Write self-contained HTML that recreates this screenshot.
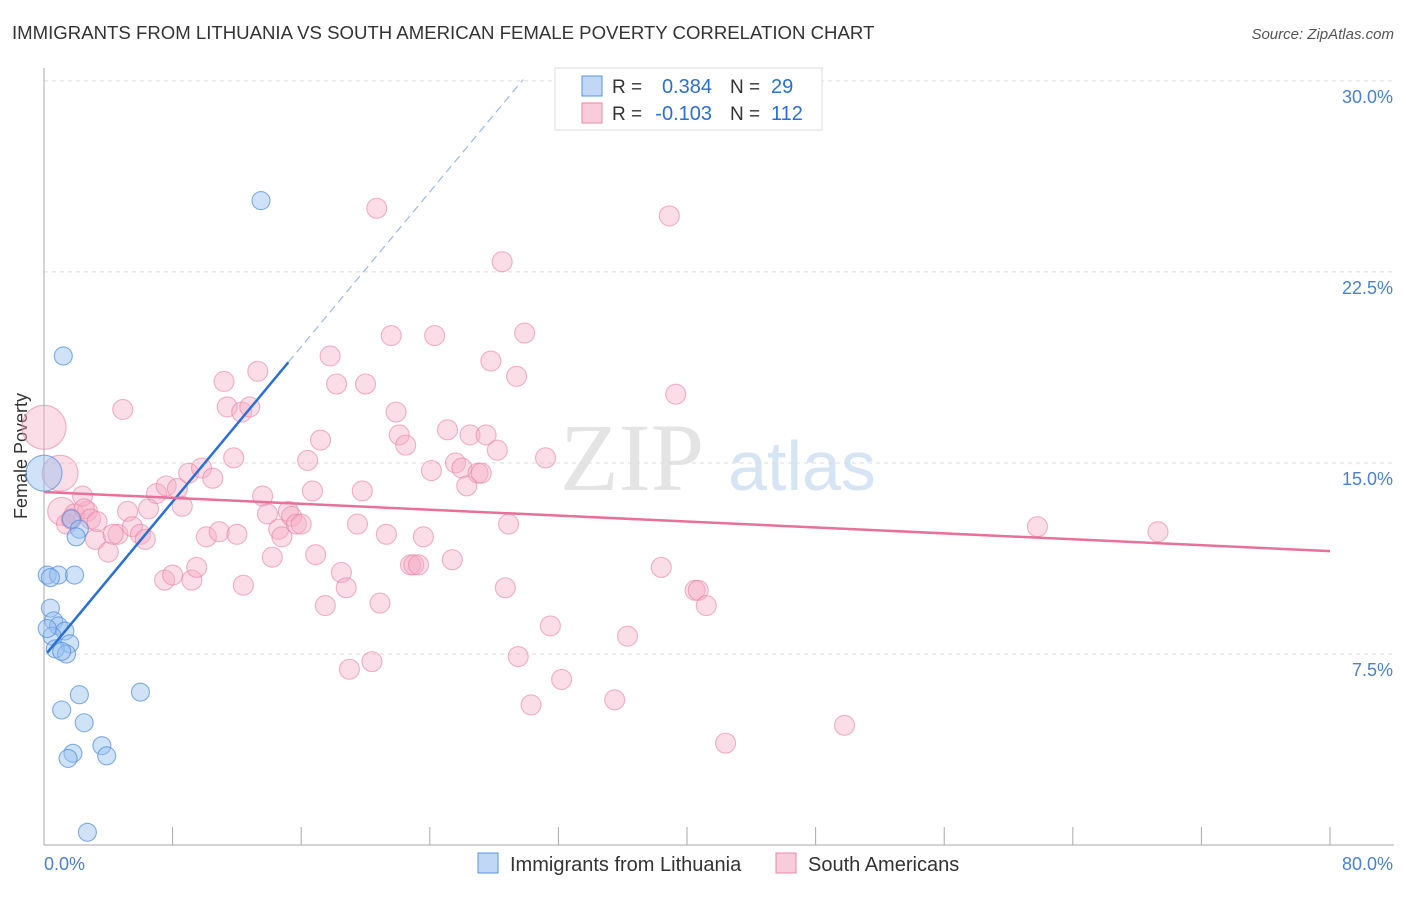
<!DOCTYPE html>
<html><head><meta charset="utf-8"><style>
body{margin:0;background:#fff;font-family:"Liberation Sans",sans-serif;}
</style></head><body>
<svg id="c" width="1406" height="892" xmlns="http://www.w3.org/2000/svg"></svg>
<script>
const xTicksPct=[0,8,16,24,32,40,48,56,64,72,80];
const yTickVals=[7.5,15,22.5,30];
const yTickLabels=["7.5%","15.0%","22.5%","30.0%"];
const blueX=[13.5,1.2,0.0,1.7,2.2,2.0,0.2,0.9,1.9,0.4,0.4,0.6,0.9,1.3,0.5,1.6,0.7,1.4,1.1,2.2,6.0,1.1,2.5,3.6,1.8,1.5,3.9,2.7,0.2];
const blueY=[25.3,19.2,14.6,12.8,12.4,12.1,10.6,10.6,10.6,10.5,9.3,8.8,8.6,8.4,8.2,7.9,7.7,7.5,7.6,5.9,6.0,5.3,4.8,3.9,3.6,3.4,3.5,0.5,8.5];
const blueBig=[0,0,1,0,0,0,0,0,0,0,0,0,0,0,0,0,0,0,0,0,0,0,0,0,0,0,0,0,0];
const pinkX=[0,1.0,1.1,1.9,2.7,1.4,1.7,2.4,2.5,2.9,3.2,3.3,4.0,4.6,4.3,4.9,5.2,5.5,6.0,6.3,6.5,7.0,7.6,7.5,8.0,8.3,8.6,9.0,9.2,9.5,9.8,10.1,10.5,10.9,11.2,11.4,11.8,12.0,12.3,12.4,12.8,13.3,13.6,13.9,14.2,14.6,14.8,15.2,15.4,15.7,16.0,16.4,16.7,16.9,17.2,17.5,17.8,18.2,18.5,18.8,19.0,19.5,19.8,20.0,20.4,20.7,20.9,21.3,21.6,21.9,22.1,22.5,22.8,23.0,23.3,23.6,24.1,24.3,25.1,25.4,25.6,26.0,26.3,26.5,27.0,27.2,27.5,27.8,28.2,28.5,28.7,28.9,29.4,29.5,29.9,30.3,31.2,31.5,32.2,35.5,36.3,38.4,38.9,39.3,40.5,40.7,41.2,42.4,49.8,61.8,69.3];
const pinkY=[16.4,14.6,13.1,13.0,13.1,12.6,12.8,13.7,13.2,12.8,12.0,12.7,11.5,12.2,12.2,17.1,13.1,12.5,12.2,12.0,13.2,13.8,14.1,10.4,10.6,14.0,13.3,14.6,10.4,10.9,14.8,12.1,14.4,12.3,18.2,17.2,15.2,12.2,17.0,10.2,17.2,18.6,13.7,13.0,11.3,12.4,12.1,13.1,12.9,12.6,12.6,15.1,13.9,11.4,15.9,9.4,19.2,18.1,10.7,10.1,6.9,12.6,13.9,18.1,7.2,25.0,9.5,12.2,20.0,17.0,16.1,15.7,11.0,11.0,11.0,12.1,14.7,20.0,16.3,11.2,15.0,14.8,14.1,16.1,14.6,14.6,16.1,19.0,15.5,22.9,10.1,12.6,18.4,7.4,20.1,5.5,15.2,8.6,6.5,5.7,8.2,10.9,24.7,17.7,10.0,10.0,9.4,4.0,4.7,12.5,12.3];
const pinkSize=[22,18,14];
const blueTrend=[7.4,0.76], blueSolidEnd=15.2, blueDashEnd=29.8;
const pinkTrend=[13.86,11.54];

const NS="http://www.w3.org/2000/svg", svg=document.getElementById('c');
const X=v=>44+v*16.075, Y=v=>845-v*25.47;
function el(t,a,p){const e=document.createElementNS(NS,t);for(const k in a)e.setAttribute(k,a[k]);(p||svg).appendChild(e);return e;}
function tx(s,a){const e=el('text',a);e.textContent=s;return e;}
let t=tx("IMMIGRANTS FROM LITHUANIA VS SOUTH AMERICAN FEMALE POVERTY CORRELATION CHART",{x:12,y:39,'font-size':18.6,fill:'#333'});

t=tx("Source: ZipAtlas.com",{x:1394,y:39,'font-size':15,fill:'#555','text-anchor':'end','font-style':'italic'});

t=tx("ZIP",{x:632,y:490,'font-size':96,fill:'#e4e4e4','text-anchor':'middle','font-family':'Liberation Serif',});

t=tx("atlas",{x:802,y:490,'font-size':70,fill:'#d6e4f4','text-anchor':'middle'});

yTickVals.forEach((v,i)=>{
 const g=el('line',{x1:44,x2:1394,y1:Y(v),y2:Y(v),stroke:'#ddd','stroke-dasharray':'4,4'});
 
 const l=tx(yTickLabels[i],{x:1393,y:Y(v)+22,'font-size':18,fill:'#4a7fd4','text-anchor':'end'});
 
});
let a=el('line',{x1:44,x2:44,y1:68,y2:845,stroke:'#aaa'});
a=el('line',{x1:44,x2:1394,y1:845,y2:845,stroke:'#aaa'});
xTicksPct.forEach(v=>{const k=el('line',{x1:X(v),x2:X(v),y1:827,y2:845,stroke:'#aaa'});});
t=tx("0.0%",{x:44,y:870,'font-size':18,fill:'#4a7fd4'});
t=tx("80.0%",{x:1393,y:870,'font-size':18,fill:'#4a7fd4','text-anchor':'end'});
t=tx("Female Poverty",{x:34,y:456,'font-size':18,fill:'#333','text-anchor':'middle',transform:'rotate(-90 34 456)'});
t.setAttribute('x',27);t.setAttribute('transform','rotate(-90 27 456)');

pinkX.forEach((v,i)=>{const c=el('circle',{cx:X(v),cy:Y(pinkY[i]),r:pinkSize[i]||10,fill:'rgba(244,170,195,0.4)',stroke:'rgba(232,130,165,0.6)','stroke-width':1.1});
 });
blueX.forEach((v,i)=>{const c=el('circle',{cx:X(v),cy:Y(blueY[i]),r:blueBig[i]?18:9,fill:'rgba(150,190,240,0.45)',stroke:'rgba(80,140,220,0.7)','stroke-width':1.1});
 });
let x0=0.2;
let l=el('line',{x1:X(x0),y1:Y(blueTrend[0]+blueTrend[1]*x0),x2:X(blueSolidEnd),y2:Y(blueTrend[0]+blueTrend[1]*blueSolidEnd),stroke:'#2a6fd6','stroke-width':2.5});

l=el('line',{x1:X(blueSolidEnd),y1:Y(blueTrend[0]+blueTrend[1]*blueSolidEnd),x2:X(blueDashEnd),y2:Y(blueTrend[0]+blueTrend[1]*blueDashEnd),stroke:'#9bb8e6','stroke-width':1.2,'stroke-dasharray':'8,5'});

l=el('line',{x1:X(0),y1:Y(pinkTrend[0]),x2:X(80),y2:Y(pinkTrend[1]),stroke:'#e8709a','stroke-width':2.5});

let b=el('rect',{x:555,y:68,width:267,height:62,fill:'#fff',stroke:'#ddd'});
[[86,'rgba(150,190,240,0.6)','#5b93dd','0.384','29'],[113,'rgba(244,170,195,0.6)','#e88aa8','-0.103','112']].forEach(r=>{
 const s=el('rect',{x:582,y:r[0]-10,width:20,height:20,fill:r[1],stroke:r[2]});
 let q=tx("R = ",{x:612,y:r[0]+7,'font-size':19,fill:'#333'});
 q=tx(r[3],{x:712,y:r[0]+7,'font-size':20,fill:'#2a6fd6','text-anchor':'end'});
 q=tx("N = ",{x:730,y:r[0]+7,'font-size':19,fill:'#333'});
 q=tx(r[4],{x:771,y:r[0]+7,'font-size':20,fill:'#2a6fd6'});
});
[[478,'rgba(150,190,240,0.6)','#5b93dd','Immigrants from Lithuania'],[776,'rgba(244,170,195,0.6)','#e88aa8','South Americans']].forEach(r=>{
 const s=el('rect',{x:r[0],y:853,width:20,height:20,fill:r[1],stroke:r[2]});
 const q=tx(r[3],{x:r[0]+32,y:871,'font-size':20,fill:'#333'});
});
</script>
</body></html>
